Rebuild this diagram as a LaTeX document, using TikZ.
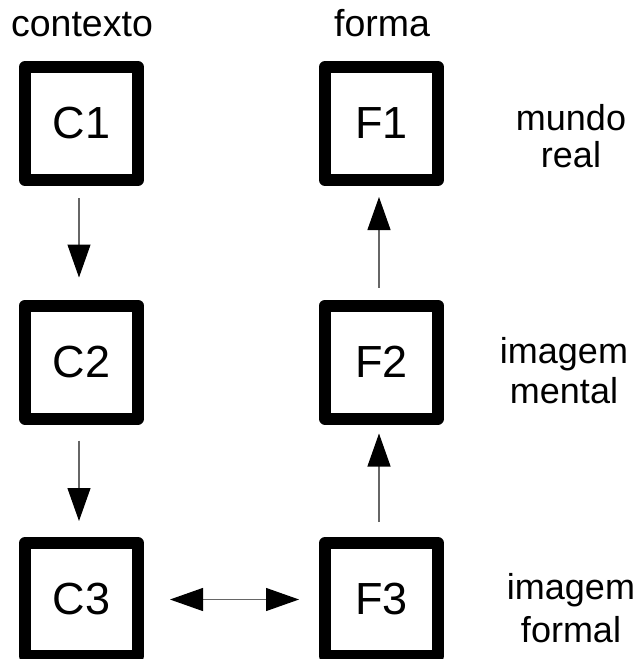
\documentclass[tikz,border=0pt]{standalone}
\usepackage{fontspec}
\setmainfont{Liberation Sans}
\usetikzlibrary{arrows.meta}
\begin{document}
\begin{tikzpicture}[x=1pt,y=-1pt,
  box/.style={draw, line width=12pt, line join=round, minimum size=113pt, inner sep=0pt,
    font=\fontsize{45}{45}\selectfont},
  lbl/.style={font=\fontsize{37.5}{37.5}\selectfont, anchor=base, inner sep=0pt},
  side/.style={font=\fontsize{36}{36}\selectfont, anchor=base, inner sep=0pt},
  conn/.style={line width=1.2pt, draw=black!60, -{Triangle[length=33pt,width=23pt,color=black]}},
  dconn/.style={line width=1.2pt, draw=black!60, {Triangle[length=33pt,width=23pt,color=black]}-{Triangle[length=33pt,width=23pt,color=black]}}]
\useasboundingbox (0,0) rectangle (640,659);

\node[box] (C1) at (81.5,123.5) {C1};
\node[box] (F1) at (381.5,123.5) {F1};
\node[box] (C2) at (81.5,362) {C2};
\node[box] (F2) at (381.5,362) {F2};
\node[box] (C3) at (81.5,599.5) {C3};
\node[box] (F3) at (381.5,599.5) {F3};

\node[lbl] (ctx) at (82,36) {contexto};
\node[lbl] (frm) at (382,36) {forma};

\node[side] (m1) at (571,130) {mundo};
\node[side] (m2) at (571,167) {real};
\node[side] (i1) at (564,363) {imagem};
\node[side] (i2) at (564,403) {mental};
\node[side] (f1) at (571,599) {imagem};
\node[side] (f2) at (571,642) {formal};

\draw[conn, shorten <=12pt, shorten >=22pt] ([xshift=-2.5pt]C1.south) -- ([xshift=-2.5pt]C2.north);
\draw[conn, shorten <=16pt, shorten >=16pt] ([xshift=-2.5pt]C2.south) -- ([xshift=-2.5pt]C3.north);
\draw[conn, shorten <=12pt, shorten >=11pt] ([xshift=-2.5pt]F2.north) -- ([xshift=-2.5pt]F1.south);
\draw[conn, shorten <=15pt, shorten >=9pt] ([xshift=-2.5pt]F3.north) -- ([xshift=-2.5pt]F2.south);
\draw[dconn, shorten <=26pt, shorten >=20pt] (C3.east) -- (F3.west);
\end{tikzpicture}
\end{document}
